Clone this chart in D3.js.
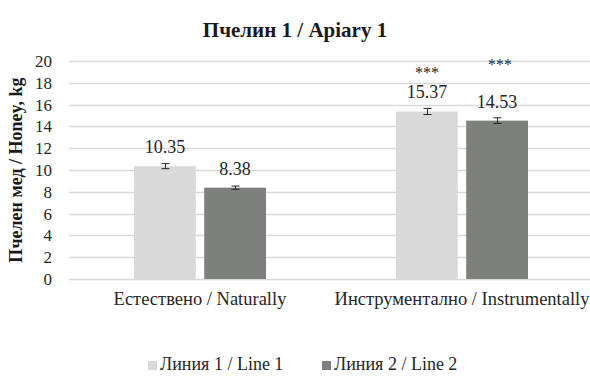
<!DOCTYPE html>
<html>
<head>
<meta charset="utf-8">
<script src="https://cdn.jsdelivr.net/npm/d3@7"></script>
<style>
  html, body { margin: 0; padding: 0; background: #fff; }
  svg { display: block; font-family: "Liberation Serif", "Times New Roman", serif; }
  svg text { font-family: "Liberation Serif", "Times New Roman", serif; }
</style>
</head>
<body>
<svg id="chart" width="590" height="380"></svg>
<script>
// Honey yield per colony, by queen-rearing method and line
const categories = ["Естествено / Naturally", "Инструментално / Instrumentally"];
const seriesNames = ["Линия 1 / Line 1", "Линия 2 / Line 2"];
const line1Values = [10.35, 15.37];
const line2Values = [8.38, 14.53];
const line1Errors = [0.23, 0.28];
const line2Errors = [0.15, 0.26];
const line1Signif = ["", "***"];
const line2Signif = ["", "***"];
const yTicks = [0, 2, 4, 6, 8, 10, 12, 14, 16, 18, 20];
const colors = ["#d9d9d9", "#7e807e"];

const svg = d3.select("#chart");
const margin = { left: 69, right: -3, top: 61, bottom: 101 };
const W = 590, H = 380;
const textColor = "#262626";

const x = d3.scaleBand().domain(categories).range([margin.left, W - margin.right]);
const xSub = d3.scaleBand().domain(seriesNames).range([0, 132]).paddingInner(0.12);
const y = d3.scaleLinear().domain([0, 20]).range([H - margin.bottom, margin.top]);

// gridlines
svg.append("g")
  .selectAll("line")
  .data(yTicks)
  .join("line")
  .attr("x1", margin.left).attr("x2", W)
  .attr("y1", d => Math.round(y(d)) + 0.5).attr("y2", d => Math.round(y(d)) + 0.5)
  .attr("stroke", "#d9d9d9").attr("stroke-width", 1.3);

// y axis tick labels
const yAxis = d3.axisLeft(y).tickValues(yTicks).tickSize(0).tickPadding(17);
svg.append("g")
  .attr("transform", `translate(${margin.left},0)`)
  .call(yAxis)
  .attr("font-family", null)
  .call(g => g.select(".domain").remove())
  .call(g => g.selectAll("text")
    .attr("font-size", 17).attr("fill", textColor));

// rows of bar data
const rows = [];
categories.forEach((c, i) => {
  rows.push({ cat: c, series: seriesNames[0], v: line1Values[i], e: line1Errors[i], s: line1Signif[i], color: colors[0] });
  rows.push({ cat: c, series: seriesNames[1], v: line2Values[i], e: line2Errors[i], s: line2Signif[i], color: colors[1] });
});
const groupOffset = (x.bandwidth() - 132) / 2;
const bx = d => x(d.cat) + groupOffset + xSub(d.series);
const bw = xSub.bandwidth();

// bars
svg.append("g")
  .selectAll("rect")
  .data(rows)
  .join("rect")
  .attr("x", bx)
  .attr("y", d => y(d.v))
  .attr("width", bw)
  .attr("height", d => y(0) - y(d.v))
  .attr("fill", d => d.color);

// error bars
const eg = svg.append("g").attr("stroke", textColor).attr("stroke-width", 1);
rows.forEach(d => {
  const cx = Math.round(bx(d) + bw / 2) + 0.5;
  eg.append("line").attr("x1", cx).attr("x2", cx).attr("y1", y(d.v + d.e)).attr("y2", y(d.v - d.e));
  eg.append("line").attr("x1", cx - 4).attr("x2", cx + 4).attr("y1", y(d.v + d.e)).attr("y2", y(d.v + d.e));
  eg.append("line").attr("x1", cx - 4).attr("x2", cx + 4).attr("y1", y(d.v - d.e)).attr("y2", y(d.v - d.e));
});

// value labels
svg.append("g")
  .selectAll("text")
  .data(rows)
  .join("text")
  .attr("x", d => bx(d) + bw / 2)
  .attr("y", d => y(d.v) - 13)
  .attr("text-anchor", "middle")
  .attr("font-size", 18)
  .attr("fill", textColor)
  .text(d => d.v.toFixed(2));

// significance marks (placed as free annotations above the bars)
const signifLevels = [19.15, 19.95];
svg.append("g")
  .selectAll("text")
  .data(rows.filter(d => d.s))
  .join("text")
  .attr("x", (d, i) => bx(d) + bw / 2 + (i === 0 ? 0 : 3))
  .attr("y", (d, i) => y(signifLevels[i]) + 8)
  .attr("text-anchor", "middle")
  .attr("font-size", 16)
  .attr("fill", textColor)
  .text(d => d.s);

// category labels
svg.append("g")
  .selectAll("text")
  .data(categories)
  .join("text")
  .attr("x", d => x(d) + x.bandwidth() / 2)
  .attr("y", 305)
  .attr("text-anchor", "middle")
  .attr("font-size", 18.5)
  .attr("fill", textColor)
  .text(d => d);

// title
svg.append("text")
  .attr("x", 295).attr("y", 37)
  .attr("text-anchor", "middle")
  .attr("font-size", 21).attr("font-weight", "bold")
  .attr("fill", "#1a1a1a")
  .text("Пчелин 1 / Apiary 1");

// y axis title
svg.append("text")
  .attr("transform", `translate(22,${(y(0) + y(20)) / 2}) rotate(-90)`)
  .attr("text-anchor", "middle")
  .attr("font-size", 18).attr("font-weight", "bold")
  .attr("fill", "#1a1a1a")
  .text("Пчелен мед / Honey, kg");

// legend
const legendX = [148, 322];
const lg = svg.append("g").selectAll("g").data(seriesNames).join("g")
  .attr("transform", (d, i) => `translate(${legendX[i]},0)`);
lg.append("rect").attr("x", 0).attr("y", 361).attr("width", 9).attr("height", 9)
  .attr("fill", (d, i) => colors[i]);
lg.append("text").attr("x", 12).attr("y", 370)
  .attr("font-size", 18).attr("fill", textColor).text(d => d);
</script>
</body>
</html>
